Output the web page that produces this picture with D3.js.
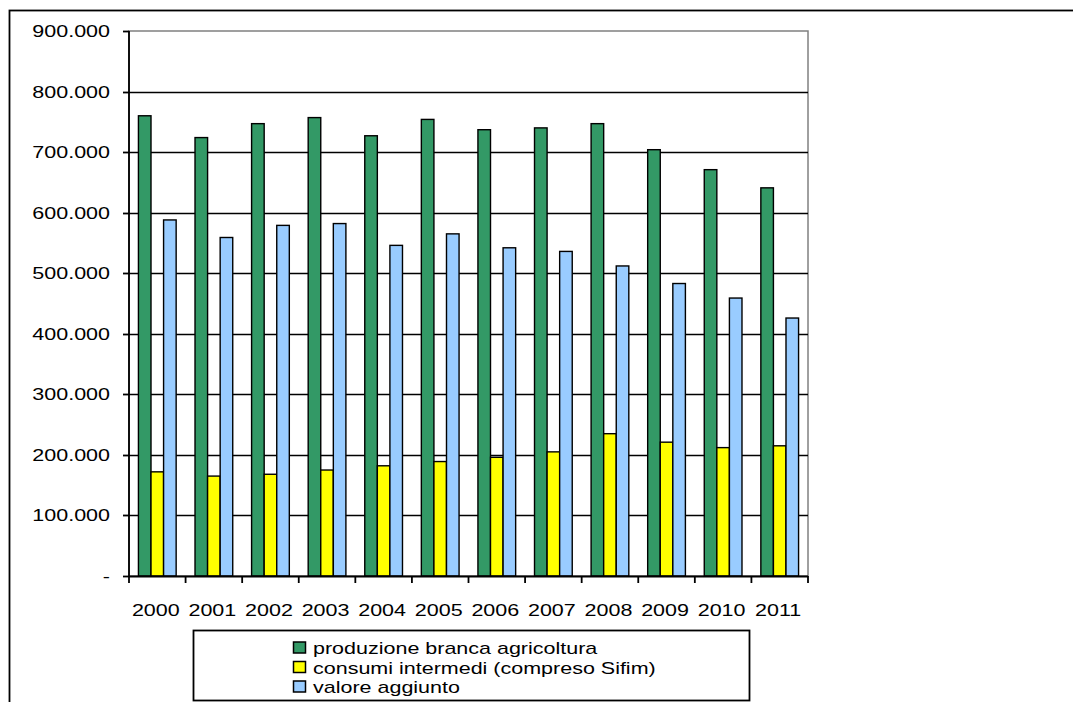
<!DOCTYPE html>
<html>
<head>
<meta charset="utf-8">
<script src="https://cdn.jsdelivr.net/npm/d3@7"></script>
<style>
  html, body { margin: 0; padding: 0; background: #fff; }
  svg { display: block; }
  text { font-family: "Liberation Sans", Arial, sans-serif; fill: #000; }
</style>
</head>
<body>
<svg id="chart" width="1073" height="702"></svg>
<script>
// Years on the category axis
const years = ["2000","2001","2002","2003","2004","2005","2006","2007","2008","2009","2010","2011"];

// Series values (thousands of euro)
const produzione = [760, 724, 747, 757, 727, 754, 737, 740, 747, 704, 671, 641];
const consumi    = [172, 165, 168, 175, 182, 189, 196, 205, 235, 221, 212, 215];
const valore     = [588, 559, 579, 582, 546, 565, 542, 536, 512, 483, 459, 426];

const seriesNames = [
  "produzione branca agricoltura",
  "consumi intermedi (compreso Sifim)",
  "valore aggiunto"
];
const seriesColors = ["#339966", "#FFFF00", "#99CCFF"];

// Value axis ticks (thousands)
const yTicks = [0, 100, 200, 300, 400, 500, 600, 700, 800, 900];
const yTickLabels = ["-", "100.000", "200.000", "300.000", "400.000", "500.000", "600.000", "700.000", "800.000", "900.000"];

const series = [produzione, consumi, valore];

const svg = d3.select("#chart");
const plotL = 129, plotR = 808, plotT = 31, plotB = 576;
const sx = 1.28;    // horizontal stretch of the lettering
const fs = 16.8;

// Outer frame
svg.append("rect")
  .attr("x", 9.5).attr("y", 10.5)
  .attr("width", 1100).attr("height", 760)
  .attr("fill", "none").attr("stroke", "#000").attr("stroke-width", 1.8);

const y = d3.scaleLinear().domain([0, 900]).range([plotB, plotT]);
const x0 = d3.scaleBand().domain(years).range([plotL, plotR])
  .paddingInner(1 / 3).paddingOuter(1 / 6);
const x1 = d3.scaleBand().domain(d3.range(series.length)).range([0, x0.bandwidth()]);

// Plot area border (grey)
svg.append("rect")
  .attr("x", plotL).attr("y", plotT)
  .attr("width", plotR - plotL).attr("height", plotB - plotT)
  .attr("fill", "#fff").attr("stroke", "#808080").attr("stroke-width", 1.5);

// Horizontal gridlines
svg.append("g").selectAll("line")
  .data(yTicks.filter(t => t > 0 && t < 900))
  .join("line")
  .attr("x1", plotL).attr("x2", plotR)
  .attr("y1", d => Math.round(y(d)) + 0.5).attr("y2", d => Math.round(y(d)) + 0.5)
  .attr("stroke", "#000").attr("stroke-width", 1.5);

// Bars
const groups = svg.append("g").selectAll("g")
  .data(years)
  .join("g")
  .attr("transform", d => `translate(${x0(d)},0)`);

groups.selectAll("rect")
  .data((d, i) => series.map((s, k) => ({ k, v: s[i] })))
  .join("rect")
  .attr("x", d => x1(d.k))
  .attr("width", x1.bandwidth())
  .attr("y", d => y(d.v))
  .attr("height", d => y(0) - y(d.v))
  .attr("fill", d => seriesColors[d.k])
  .attr("stroke", "#000").attr("stroke-width", 1.4);

// Value axis
const yAxis = svg.append("g");
yAxis.append("line")
  .attr("x1", plotL).attr("x2", plotL).attr("y1", plotT).attr("y2", plotB)
  .attr("stroke", "#000").attr("stroke-width", 1.8);
yAxis.selectAll("line.tick")
  .data(yTicks).join("line").attr("class", "tick")
  .attr("x1", plotL - 6).attr("x2", plotL)
  .attr("y1", d => Math.round(y(d)) + 0.5).attr("y2", d => Math.round(y(d)) + 0.5)
  .attr("stroke", "#000").attr("stroke-width", 1.8);
yAxis.selectAll("text")
  .data(yTicks).join("text")
  .attr("transform", d => `translate(110,${y(d) + 6}) scale(${sx},1)`)
  .attr("text-anchor", "end")
  .attr("font-size", fs)
  .text((d, i) => yTickLabels[i]);

// Category axis
const xAxis = svg.append("g");
xAxis.append("line")
  .attr("x1", plotL).attr("x2", plotR).attr("y1", plotB + 0.5).attr("y2", plotB + 0.5)
  .attr("stroke", "#000").attr("stroke-width", 1.8);
const boundaries = years.map(d => x0(d) - x0.step() * x0.paddingOuter()).concat([plotR]);
xAxis.selectAll("line.tick")
  .data(boundaries).join("line").attr("class", "tick")
  .attr("x1", d => d).attr("x2", d => d)
  .attr("y1", plotB).attr("y2", plotB + 7)
  .attr("stroke", "#000").attr("stroke-width", 1.8);
xAxis.selectAll("text")
  .data(years).join("text")
  .attr("transform", d => `translate(${x0(d) + x0.bandwidth() / 2 - 1.5},616) scale(${sx},1)`)
  .attr("text-anchor", "middle")
  .attr("font-size", fs)
  .text(d => d);

// Legend
const legend = svg.append("g");
legend.append("rect")
  .attr("x", 193.5).attr("y", 630.5).attr("width", 556).attr("height", 70)
  .attr("fill", "#fff").attr("stroke", "#000").attr("stroke-width", 1.8);
const items = legend.selectAll("g.item")
  .data(seriesNames).join("g").attr("class", "item")
  .attr("transform", (d, i) => `translate(0,${654 + i * 19.5})`);
items.append("rect")
  .attr("x", 293.5).attr("y", -12).attr("width", 12).attr("height", 11)
  .attr("fill", (d, i) => seriesColors[i])
  .attr("stroke", "#000").attr("stroke-width", 1.5);
items.append("text")
  .attr("transform", `translate(313,0) scale(${sx},1)`)
  .attr("font-size", fs)
  .text(d => d);
</script>
</body>
</html>
